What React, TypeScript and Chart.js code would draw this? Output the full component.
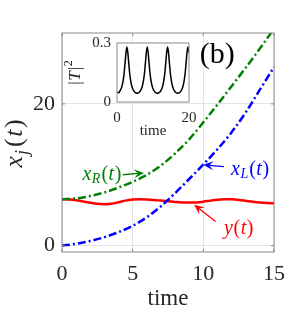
import React, { useEffect, useRef } from "react";
import { Chart, registerables } from "chart.js";
Chart.register(...registerables);

const SERIF = '"Liberation Serif", "Times New Roman", Times, serif';
const TXT = "#262626";
const GRID = "#e4e4e4";
const BOX = "#8a8a8a";

// ---- data ----
const timeSteps = [0, 1, 2, 3, 4, 5, 6, 7, 8, 9, 10, 11, 12, 13, 14, 15];
const xRValues = [6.55, 6.65, 7.0, 7.5, 8.2, 9.0, 10.0, 11.3, 13.0, 15.0, 17.4, 19.9, 22.5, 25.1, 27.8, 30.6];
const xLValues = [0, 0.25, 0.65, 1.2, 1.9, 2.8, 4.0, 5.55, 7.4, 9.4, 11.45, 13.6, 16.0, 18.8, 22.0, 25.2];
const yTimes = [0, 0.5, 1, 1.5, 2, 2.5, 3, 3.5, 4, 4.5, 5, 5.5, 6, 6.5, 7, 7.5, 8, 8.5, 9, 9.5, 10, 10.5, 11, 11.5, 12, 12.5, 13, 13.5, 14, 14.5, 15];
const yValues = [6.55, 6.5, 6.4, 6.22, 6.05, 5.9, 5.85, 5.92, 6.12, 6.35, 6.5, 6.55, 6.52, 6.45, 6.35, 6.25, 6.17, 6.1, 6.07, 6.1, 6.2, 6.35, 6.48, 6.55, 6.53, 6.45, 6.32, 6.18, 6.07, 6.0, 5.98];

const insetTimes = [
  0, 0.5, 0.75, 1.25, 1.5, 1.75, 2.0, 2.25, 2.5, 2.75, 3.0, 3.25, 3.5, 3.75, 4.0, 4.25, 4.75, 5.25, 5.575,
  5.9, 6.4, 6.9, 7.15, 7.4, 7.65, 7.9, 8.15, 8.4, 8.65, 8.9, 9.15, 9.4, 9.65, 9.9, 10.4, 10.9, 11.225,
  11.55, 12.05, 12.55, 12.8, 13.05, 13.3, 13.55, 13.8, 14.05, 14.3, 14.55, 14.8, 15.05, 15.3, 15.55, 16.05, 16.55, 16.875,
  17.2, 17.7, 18.2, 18.45, 18.7, 18.95, 19.2, 19.45, 19.7, 20,
];
const insetValues = [
  0.05, 0.047, 0.054, 0.073, 0.09, 0.114, 0.15, 0.2, 0.252, 0.28, 0.252, 0.2, 0.15, 0.114, 0.09, 0.073, 0.054, 0.046, 0.044,
  0.046, 0.054, 0.073, 0.09, 0.114, 0.15, 0.2, 0.252, 0.28, 0.252, 0.2, 0.15, 0.114, 0.09, 0.073, 0.054, 0.046, 0.044,
  0.046, 0.054, 0.073, 0.09, 0.114, 0.15, 0.2, 0.252, 0.28, 0.252, 0.2, 0.15, 0.114, 0.09, 0.073, 0.054, 0.046, 0.044,
  0.046, 0.054, 0.073, 0.09, 0.114, 0.15, 0.2, 0.252, 0.28, 0.25,
];

const mainXTicks = [0, 5, 10, 15];
const mainYTicks = [0, 20];
const insetXTicks = [0, 20];
const insetYTicks = [0, 0.3];

type Part = { t: string; it?: boolean; s: number; dy?: number; gap?: number };

function fontOf(p: Part) {
  return `${p.it ? "italic " : ""}${p.s}px ${SERIF}`;
}

function drawRich(ctx: CanvasRenderingContext2D, parts: Part[], x: number, y: number, align: "left" | "center") {
  let w = 0;
  parts.forEach((p) => {
    ctx.font = fontOf(p);
    w += ctx.measureText(p.t).width + (p.gap || 0);
  });
  let cx = align === "center" ? x - w / 2 : x;
  ctx.textAlign = "left";
  parts.forEach((p) => {
    ctx.font = fontOf(p);
    ctx.fillText(p.t, cx, y + (p.dy || 0));
    cx += ctx.measureText(p.t).width + (p.gap || 0);
  });
}

function arrow(ctx: CanvasRenderingContext2D, x1: number, y1: number, x2: number, y2: number, color: string) {
  const a = Math.atan2(y2 - y1, x2 - x1);
  const c = Math.cos(a), s = Math.sin(a);
  const L = 10, W = 4.5;
  ctx.save();
  ctx.strokeStyle = color;
  ctx.fillStyle = color;
  ctx.lineWidth = 1.3;
  ctx.beginPath();
  ctx.moveTo(x1, y1);
  ctx.lineTo(x2 - L * 0.6 * c, y2 - L * 0.6 * s);
  ctx.stroke();
  ctx.beginPath();
  ctx.moveTo(x2, y2);
  ctx.lineTo(x2 - L * c + W * s, y2 - L * s - W * c);
  ctx.lineTo(x2 - L * 0.6 * c, y2 - L * 0.6 * s);
  ctx.lineTo(x2 - L * c - W * s, y2 - L * s + W * c);
  ctx.closePath();
  ctx.fill();
  ctx.restore();
}

const mainDecor = {
  id: "mainDecor",
  afterDraw(chart: any) {
    const ctx: CanvasRenderingContext2D = chart.ctx;
    const { left, right, top, bottom } = chart.chartArea;
    const xs = chart.scales.x, ys = chart.scales.y;
    ctx.save();
    ctx.strokeStyle = BOX;
    ctx.lineWidth = 1;
    ctx.strokeRect(left, top, right - left, bottom - top);
    ctx.beginPath();
    mainXTicks.forEach((v) => {
      const px = xs.getPixelForValue(v);
      ctx.moveTo(px, bottom); ctx.lineTo(px, bottom - 3);
      ctx.moveTo(px, top); ctx.lineTo(px, top + 3);
    });
    mainYTicks.forEach((v) => {
      const py = ys.getPixelForValue(v);
      ctx.moveTo(left, py); ctx.lineTo(left + 3, py);
      ctx.moveTo(right, py); ctx.lineTo(right - 3, py);
    });
    ctx.stroke();

    const P = (t: number, y: number): [number, number] => [xs.getPixelForValue(t), ys.getPixelForValue(y)];
    ctx.textBaseline = "middle";

    ctx.fillStyle = "#008000";
    let p = P(1.45, 10.0);
    drawRich(ctx, [
      { t: "x", it: true, s: 20, gap: 0.5 },
      { t: "R", it: true, s: 14, dy: 5, gap: 1 },
      { t: "(", s: 20, gap: 0.5 },
      { t: "t", it: true, s: 20, gap: 0.5 },
      { t: ")", s: 20 },
    ], p[0], p[1], "left");
    let a = P(4.3, 10.0), b = P(5.8, 10.25);
    arrow(ctx, a[0], a[1], b[0], b[1], "#008000");

    ctx.fillStyle = "#0000ff";
    p = P(11.96, 10.7);
    drawRich(ctx, [
      { t: "x", it: true, s: 20, gap: 0.5 },
      { t: "L", it: true, s: 14, dy: 5, gap: 1 },
      { t: "(", s: 20, gap: 0.5 },
      { t: "t", it: true, s: 20, gap: 0.5 },
      { t: ")", s: 20 },
    ], p[0], p[1], "left");
    a = P(11.45, 11.15); b = P(10.0, 11.4);
    arrow(ctx, a[0], a[1], b[0], b[1], "#0000ff");

    ctx.fillStyle = "#ff0000";
    p = P(11.47, 2.36);
    drawRich(ctx, [
      { t: "y", it: true, s: 20, gap: 0.5 },
      { t: "(", s: 20, gap: 0.5 },
      { t: "t", it: true, s: 20, gap: 0.5 },
      { t: ")", s: 20 },
    ], p[0], p[1], "left");
    a = P(10.87, 3.39); b = P(9.35, 5.75);
    arrow(ctx, a[0], a[1], b[0], b[1], "#ff0000");

    ctx.fillStyle = "#000";
    p = P(10.99, 26.9);
    ctx.font = `30px ${SERIF}`;
    ctx.textAlign = "center";
    ctx.fillText("(b)", p[0], p[1]);

    ctx.fillStyle = TXT;
    ctx.textBaseline = "alphabetic";
    ctx.translate(left - 40.5, (top + bottom) / 2 + 1);
    ctx.rotate(-Math.PI / 2);
    drawRich(ctx, [
      { t: "x", it: true, s: 26, gap: 1 },
      { t: "j", it: true, s: 18, dy: 6, gap: 3 },
      { t: "(", s: 26, gap: 1.5 },
      { t: "t", it: true, s: 26, gap: 1.5 },
      { t: ")", s: 26 },
    ], 0, 0, "center");
    ctx.restore();
  },
};

const insetDecor = {
  id: "insetDecor",
  beforeDraw(chart: any) {
    const ctx: CanvasRenderingContext2D = chart.ctx;
    const { left, right, top, bottom } = chart.chartArea;
    ctx.save();
    ctx.fillStyle = "#ffffff";
    ctx.fillRect(left, top, right - left, bottom - top);
    ctx.restore();
  },
  afterDraw(chart: any) {
    const ctx: CanvasRenderingContext2D = chart.ctx;
    const { left, right, top, bottom } = chart.chartArea;
    ctx.save();
    ctx.strokeStyle = BOX;
    ctx.lineWidth = 1;
    ctx.strokeRect(left, top, right - left, bottom - top);
    ctx.fillStyle = TXT;
    ctx.textBaseline = "alphabetic";
    ctx.translate(left - 37, (top + bottom) / 2);
    ctx.rotate(-Math.PI / 2);
    drawRich(ctx, [
      { t: "|", s: 17, gap: 0.5 },
      { t: "T", it: true, s: 17, gap: 1 },
      { t: "|", s: 17, gap: 0.5 },
      { t: "2", s: 12, dy: -8 },
    ], 0, 0, "center");
    ctx.restore();
  },
};

export default function App() {
  const mainRef = useRef<HTMLCanvasElement>(null);
  const insetRef = useRef<HTMLCanvasElement>(null);

  useEffect(() => {
    const main = new Chart(mainRef.current as HTMLCanvasElement, {
      type: "line",
      data: {
        datasets: [
          {
            label: "xL",
            data: timeSteps.map((t, i) => ({ x: t, y: xLValues[i] })),
            borderColor: "#0000ff",
            borderWidth: 2.5,
            borderDash: [8, 3, 2, 3],
            pointRadius: 0,
            cubicInterpolationMode: "monotone",
            fill: false,
            clip: 0,
          },
          {
            label: "xR",
            data: timeSteps.map((t, i) => ({ x: t, y: xRValues[i] })),
            borderColor: "#008000",
            borderWidth: 2.5,
            borderDash: [8, 3, 2, 3],
            pointRadius: 0,
            cubicInterpolationMode: "monotone",
            fill: false,
            clip: 0,
          },
          {
            label: "y",
            data: yTimes.map((t, i) => ({ x: t, y: yValues[i] })),
            borderColor: "#ff0000",
            borderWidth: 2.5,
            pointRadius: 0,
            cubicInterpolationMode: "monotone",
            fill: false,
            clip: 0,
          },
        ],
      } as any,
      options: {
        animation: false,
        responsive: false,
        devicePixelRatio: 1,
        events: [],
        plugins: { legend: { display: false }, tooltip: { enabled: false } },
        layout: { padding: { left: 0, top: 33, right: 15, bottom: 0 } },
        scales: {
          x: {
            type: "linear",
            min: 0,
            max: 15,
            afterBuildTicks: (s: any) => {
              s.ticks = mainXTicks.map((v) => ({ value: v }));
            },
            afterFit: (s: any) => {
              s.height = 64;
            },
            grid: { color: GRID, drawTicks: false, lineWidth: 1 },
            border: { display: false },
            ticks: {
              font: { family: SERIF, size: 22 },
              color: TXT,
              padding: 9,
              maxRotation: 0,
              autoSkip: false,
              callback: (v: any) => String(v),
            },
            title: {
              display: true,
              text: "time",
              font: { family: SERIF, size: 23 },
              color: TXT,
              padding: { top: 0, bottom: 3 },
            },
          },
          y: {
            type: "linear",
            min: -0.9,
            max: 30,
            afterBuildTicks: (s: any) => {
              s.ticks = mainYTicks.map((v) => ({ value: v }));
            },
            afterFit: (s: any) => {
              s.width = 62;
            },
            grid: { color: GRID, drawTicks: false, lineWidth: 1 },
            border: { display: false },
            ticks: {
              font: { family: SERIF, size: 22 },
              color: TXT,
              padding: 7,
              autoSkip: false,
              callback: (v: any) => String(v),
            },
          },
        },
      } as any,
      plugins: [mainDecor],
    });

    const inset = new Chart(insetRef.current as HTMLCanvasElement, {
      type: "line",
      data: {
        datasets: [
          {
            label: "T2",
            data: insetTimes.map((t, i) => ({ x: t, y: insetValues[i] })),
            borderColor: "#000000",
            borderWidth: 1.5,
            pointRadius: 0,
            cubicInterpolationMode: "monotone",
            fill: false,
            clip: 0,
          },
        ],
      } as any,
      options: {
        animation: false,
        responsive: false,
        devicePixelRatio: 1,
        events: [],
        plugins: { legend: { display: false }, tooltip: { enabled: false } },
        layout: { padding: { left: 70, top: 43, right: 105, bottom: 176 } },
        scales: {
          x: {
            type: "linear",
            min: 0,
            max: 20,
            afterBuildTicks: (s: any) => {
              s.ticks = insetXTicks.map((v) => ({ value: v }));
            },
            afterFit: (s: any) => {
              s.height = 38;
            },
            grid: { display: false, drawTicks: false },
            border: { display: false },
            ticks: {
              font: { family: SERIF, size: 15 },
              color: TXT,
              padding: 7,
              maxRotation: 0,
              autoSkip: false,
              callback: (v: any) => String(v),
            },
            title: {
              display: true,
              text: "time",
              font: { family: SERIF, size: 15 },
              color: TXT,
              padding: { top: 0, bottom: 0 },
            },
          },
          y: {
            type: "linear",
            min: 0,
            max: 0.3,
            afterBuildTicks: (s: any) => {
              s.ticks = insetYTicks.map((v) => ({ value: v }));
            },
            afterFit: (s: any) => {
              s.width = 47;
            },
            grid: { display: false, drawTicks: false },
            border: { display: false },
            ticks: {
              font: { family: SERIF, size: 15 },
              color: TXT,
              padding: 6,
              autoSkip: false,
              callback: (v: any) => String(v),
            },
          },
        },
      } as any,
      plugins: [insetDecor],
    });

    return () => {
      main.destroy();
      inset.destroy();
    };
  }, []);

  return (
    <div style={{ position: "absolute", left: 0, top: 0, width: 294, height: 316, background: "#fff" }}>
      <canvas
        ref={mainRef}
        width={294}
        height={316}
        style={{ position: "absolute", left: 0, top: 0, width: 294, height: 316 }}
      />
      <canvas
        ref={insetRef}
        width={294}
        height={316}
        style={{ position: "absolute", left: 0, top: 0, width: 294, height: 316, pointerEvents: "none" }}
      />
    </div>
  );
}
